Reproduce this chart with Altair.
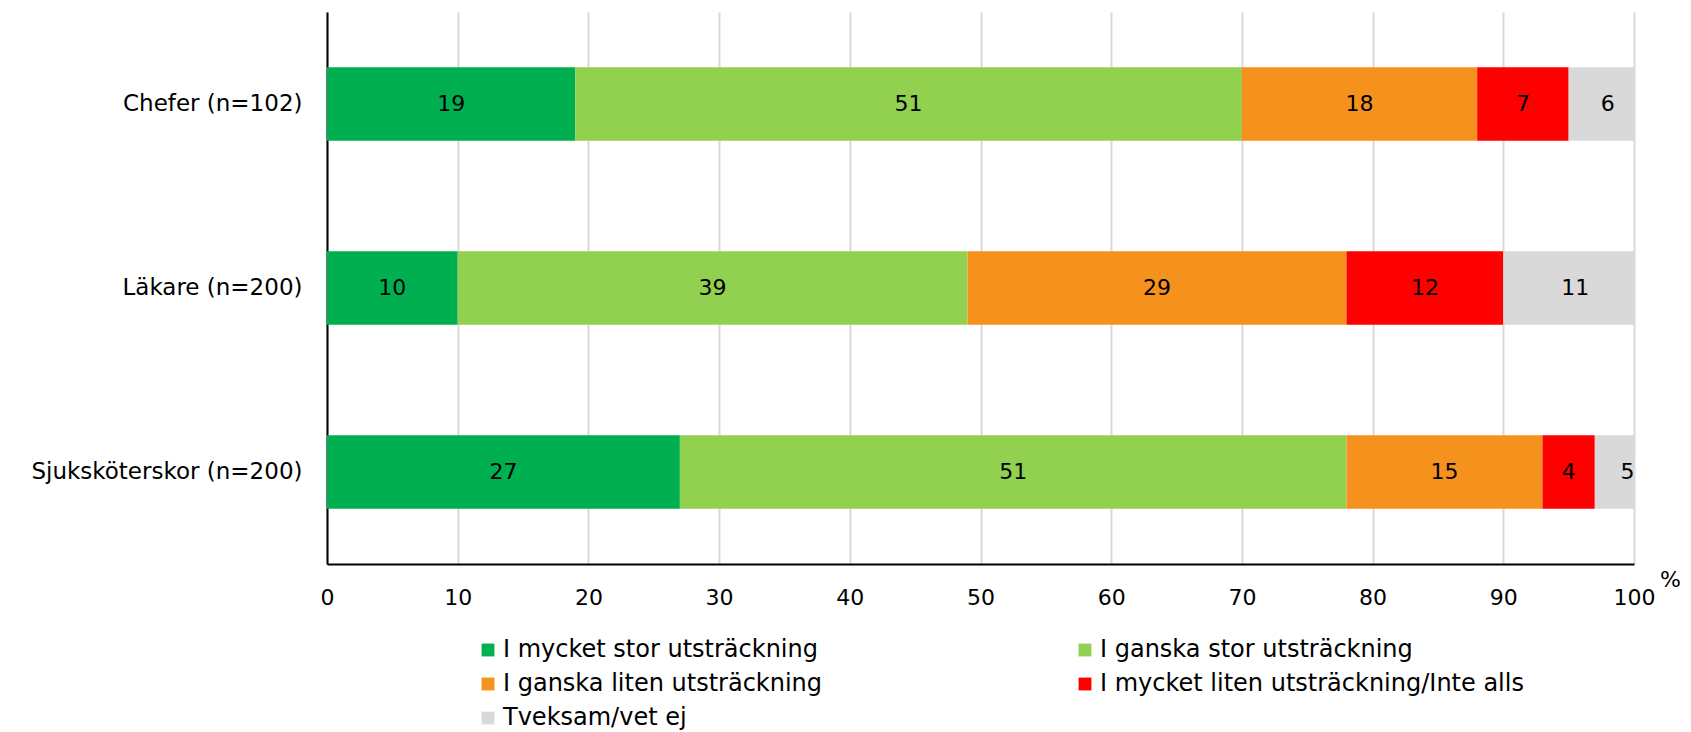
import altair as alt
import pandas as pd

groups = ["Chefer (n=102)", "Läkare (n=200)", "Sjuksköterskor (n=200)"]
categories = [
    "I mycket stor utsträckning",
    "I ganska stor utsträckning",
    "I ganska liten utsträckning",
    "I mycket liten utsträckning/Inte alls",
    "Tveksam/vet ej",
]
colors = ["#00B050", "#92D050", "#F5921E", "#FF0000", "#D9D9D9"]
chefer = [19, 51, 18, 7, 6]
lakare = [10, 39, 29, 12, 11]
sjukskoterskor = [27, 51, 15, 4, 5]
x_ticks = [0, 10, 20, 30, 40, 50, 60, 70, 80, 90, 100]

rows = []
for g, vals in zip(groups, [chefer, lakare, sjukskoterskor]):
    for i, (c, v) in enumerate(zip(categories, vals)):
        rows.append({"group": g, "category": c, "value": v, "ord": i})
df = pd.DataFrame(rows)

FONT = "DejaVu Sans"

base = alt.Chart(df).transform_stack(
    stack="value", as_=["x0", "x1"], groupby=["group"], sort=[alt.SortField("ord", order="ascending")]
).transform_calculate(mid="(datum.x0 + datum.x1) / 2")

y_enc = alt.Y(
    "group:N",
    sort=groups,
    scale=alt.Scale(paddingInner=0.6, paddingOuter=0.3),
    axis=alt.Axis(
        title=None, domain=True, domainColor="#000000", domainWidth=2, ticks=False, tickSize=0,
        labelFontSize=23, labelFont=FONT, labelColor="#000000", labelPadding=25, grid=False,
        labelLimit=0,
    ),
)

bars = base.mark_bar(clip=True).encode(
    x=alt.X(
        "x0:Q",
        scale=alt.Scale(domain=[0, 100], nice=False),
        axis=alt.Axis(
            values=x_ticks, grid=True, gridColor="#D9D9D9", gridWidth=2, domain=True,
            domainColor="#000000", domainWidth=2, ticks=False, tickSize=0,
            labelFontSize=22, labelFont=FONT, labelColor="#000000", labelPadding=33,
            labelBaseline="middle", labelFlush=False,
            title="%", titleFont=FONT, titleFontSize=22, titleFontWeight="normal", titleColor="#000000",
            titleX=1343, titleY=15, titleAlign="center", titleBaseline="middle", titleAngle=0,
        ),
    ),
    x2="x1:Q",
    y=y_enc,
    color=alt.Color(
        "category:N",
        scale=alt.Scale(domain=categories, range=colors),
        legend=alt.Legend(
            title=None, orient="none", legendX=149, legendY=626, direction="horizontal", columns=2,
            symbolType="square", symbolSize=165, symbolStrokeWidth=0, labelFontSize=24, labelFont=FONT,
            labelColor="#000000", labelOffset=3, columnPadding=250, rowPadding=10, labelLimit=0,
        ),
    ),
    order=alt.Order("ord:Q"),
)

text = base.mark_text(font=FONT, fontSize=22, color="#000000", baseline="middle", align="center").encode(
    x=alt.X("mid:Q"),
    y=alt.Y("group:N", sort=groups),
    text=alt.Text("value:Q"),
)

chart = alt.layer(bars, text).properties(
    width=1307,
    height=552,
    background="#FFFFFF",
    padding={"left": 319, "top": 4, "right": 48, "bottom": 166},
    autosize=alt.AutoSizeParams(type="none"),
).configure_view(strokeWidth=0, stroke="transparent")

chart.save("out.html", embed_options={"renderer": "svg", "actions": False})
